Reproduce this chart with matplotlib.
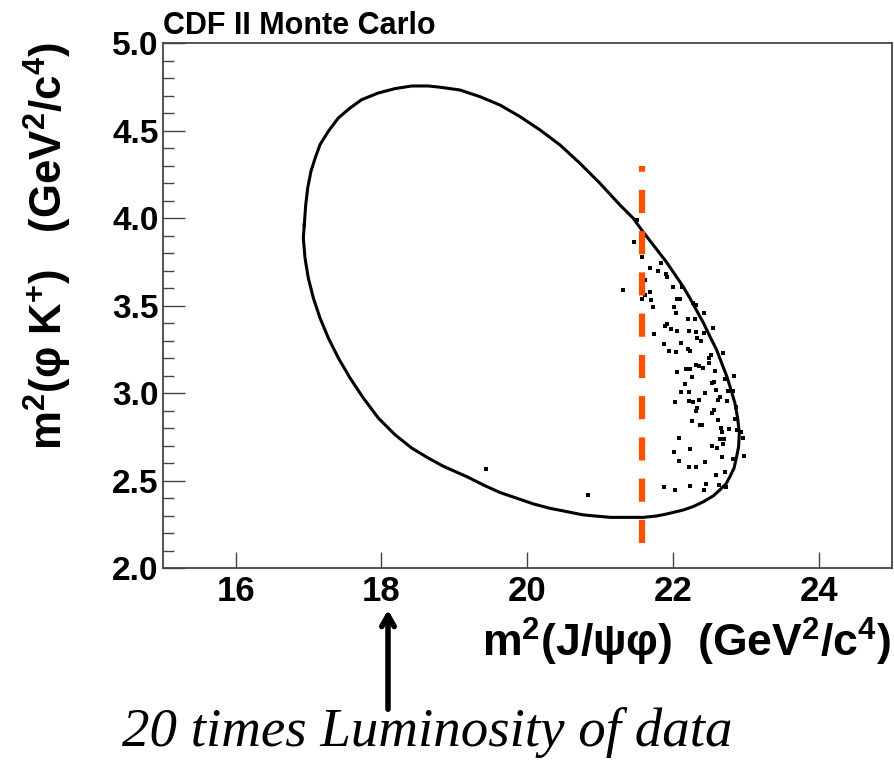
import matplotlib
matplotlib.use("Agg")
import matplotlib.pyplot as plt

plt.rcParams['font.family'] = ['Liberation Sans', 'DejaVu Sans']
plt.rcParams['mathtext.default'] = 'regular'

# Dalitz boundary (clockwise from the leftmost point)
edge_x = [16.942, 16.962, 16.989, 17.034, 17.092, 17.158, 17.272, 17.409, 17.570, 17.730,
          17.957, 18.187, 18.416, 18.643, 18.804, 19.078, 19.352, 19.627, 19.901, 20.175,
          20.450, 20.724, 20.998, 21.272, 21.455, 21.570, 21.910, 22.140, 22.233, 22.420,
          22.507, 22.600, 22.668, 22.740, 22.796, 22.850, 22.887, 22.910, 22.900, 22.873,
          22.837, 22.780, 22.727, 22.640, 22.553, 22.420, 22.279, 22.140, 21.910, 21.776,
          21.590, 21.364, 21.140, 20.770, 20.541, 20.310, 20.084, 19.860, 19.627, 19.400,
          19.170, 18.849, 18.643, 18.416, 18.187, 17.957, 17.752, 17.570, 17.409, 17.272,
          17.158, 17.066, 16.997, 16.952, 16.929, 16.942]
edge_y = [3.963, 4.078, 4.173, 4.269, 4.345, 4.421, 4.497, 4.573, 4.630, 4.678,
          4.716, 4.741, 4.756, 4.756, 4.749, 4.733, 4.695, 4.647, 4.581, 4.505,
          4.419, 4.314, 4.200, 4.076, 4.000, 3.933, 3.750, 3.609, 3.543, 3.400,
          3.324, 3.247, 3.172, 3.095, 3.019, 2.943, 2.857, 2.771, 2.695, 2.638,
          2.572, 2.523, 2.482, 2.447, 2.414, 2.381, 2.353, 2.333, 2.310, 2.299,
          2.291, 2.291, 2.291, 2.305, 2.324, 2.343, 2.368, 2.400, 2.433, 2.476,
          2.524, 2.583, 2.630, 2.687, 2.763, 2.859, 2.973, 3.087, 3.202, 3.316,
          3.430, 3.545, 3.659, 3.773, 3.887, 3.963]

# Monte Carlo events
mc_x = [21.50, 21.47, 21.58, 21.31, 21.62, 21.68, 21.79, 21.83, 21.91, 21.92,
        21.68, 21.61, 21.58, 21.70, 21.73, 22.00, 22.06, 22.09, 22.01, 22.04,
        22.13, 22.28, 22.32, 22.42, 22.20, 22.30, 21.92, 21.89, 21.97, 22.05,
        22.22, 22.32, 21.74, 22.42, 22.55, 21.88, 22.11, 22.33, 22.39, 22.21,
        22.23, 21.94, 22.04, 22.52, 22.50, 22.49, 22.68, 22.32, 22.36, 22.41,
        22.05, 22.18, 22.24, 22.57, 22.26, 22.16, 22.53, 22.56, 22.71, 22.83,
        22.11, 22.22, 22.44, 22.59, 22.75, 22.82, 22.03, 22.22, 22.27, 22.35,
        22.62, 22.65, 22.74, 22.31, 22.33, 22.56, 22.54, 22.86, 22.26, 22.37,
        22.40, 22.62, 22.85, 22.66, 22.67, 22.77, 22.88, 22.93, 22.96, 22.08,
        22.64, 22.70, 22.68, 22.54, 22.60, 22.24, 22.01, 22.08, 22.44, 22.67,
        22.82, 22.97, 22.22, 22.32, 22.59, 22.72, 21.87, 22.03, 22.24, 22.45,
        22.43, 22.63, 22.73, 19.44, 20.84]
mc_y = [3.990, 3.867, 3.781, 3.591, 3.648, 3.714, 3.699, 3.747, 3.682, 3.667,
        3.581, 3.562, 3.537, 3.533, 3.492, 3.610, 3.537, 3.541, 3.495, 3.461,
        3.606, 3.515, 3.505, 3.461, 3.427, 3.427, 3.396, 3.385, 3.366, 3.358,
        3.356, 3.351, 3.337, 3.347, 3.372, 3.282, 3.290, 3.318, 3.299, 3.252,
        3.244, 3.244, 3.235, 3.221, 3.202, 3.172, 3.229, 3.162, 3.156, 3.147,
        3.124, 3.137, 3.137, 3.126, 3.092, 3.054, 3.061, 3.065, 3.080, 3.099,
        3.010, 3.010, 3.004, 3.017, 3.015, 3.014, 2.951, 2.956, 2.951, 2.962,
        2.962, 2.977, 2.956, 2.901, 2.915, 2.905, 2.886, 2.920, 2.844, 2.819,
        2.819, 2.848, 2.852, 2.802, 2.781, 2.795, 2.791, 2.781, 2.743, 2.745,
        2.737, 2.737, 2.711, 2.699, 2.690, 2.680, 2.663, 2.615, 2.610, 2.638,
        2.623, 2.642, 2.577, 2.577, 2.534, 2.553, 2.467, 2.448, 2.473, 2.480,
        2.448, 2.476, 2.467, 2.568, 2.419]

cut_x = 21.57
cut_y = [2.143, 4.30]

x_ticks = [16, 18, 20, 22, 24]
y_ticks = [2.0, 2.5, 3.0, 3.5, 4.0, 4.5, 5.0]

fig = plt.figure(figsize=(8.95, 7.62), dpi=100)
ax = fig.add_axes([0.1818, 0.2542, 0.8145, 0.689])

ax.plot(edge_x, edge_y, color='black', lw=2.2)
ax.plot(mc_x, mc_y, 's', color='black', ms=2.4, mew=0)
ax.plot([cut_x, cut_x], cut_y, color='#ff5000', lw=4.5, dashes=(3.7, 2.9),
        dash_capstyle='butt')

ax.set_xlim(15, 25)
ax.set_ylim(2.0, 5.0)
ax.set_xticks(x_ticks)
ax.set_xticklabels([str(t) for t in x_ticks])
ax.set_yticks(y_ticks)
ax.set_yticklabels([f"{t:.1f}" for t in y_ticks])
ax.set_yticks([y / 10 for y in range(20, 51)], minor=True)

for s in ax.spines.values():
    s.set_color('#444444')
    s.set_linewidth(1.3)
ax.tick_params(axis='y', which='major', direction='in', length=15.8, width=1,
               color='#444444', pad=3, labelsize=24)
ax.tick_params(axis='y', which='minor', direction='in', length=7.9, width=1,
               color='#444444')
ax.tick_params(axis='x', which='major', direction='in', length=11.5, width=1,
               color='#444444', pad=5, labelsize=25)
for lab in ax.get_xticklabels() + ax.get_yticklabels():
    lab.set_fontweight('bold')

fig.text(163 / 895, 1 - 34 / 762, 'CDF II Monte Carlo', fontsize=22,
         fontweight='bold', ha='left', va='baseline')
fig.text(891 / 895, 1 - 657 / 762, r'm$^{2}$(J/ψφ)  (GeV$^{2}$/c$^{4}$)',
         fontsize=32, fontweight='bold', ha='right', va='baseline')
fig.text(48 / 895, 1 - 42 / 762, r'm$^{2}$(φ K$^{+}$)   (GeV$^{2}$/c$^{4}$)',
         fontsize=31.5, fontweight='bold', rotation=90, ha='center', va='top')

fig.text(122 / 895, 1 - 746 / 762, '20 times Luminosity of data',
         family='Liberation Serif', style='italic', fontsize=39.5,
         ha='left', va='baseline')
ax.annotate('', xy=(388 / 895, 1 - 607 / 762), xytext=(388 / 895, 1 - 712 / 762),
            xycoords='figure fraction', textcoords='figure fraction',
            arrowprops=dict(arrowstyle='->,head_length=0.8,head_width=0.45',
                            lw=4, color='black'))

fig.savefig('out.png', dpi=100)
